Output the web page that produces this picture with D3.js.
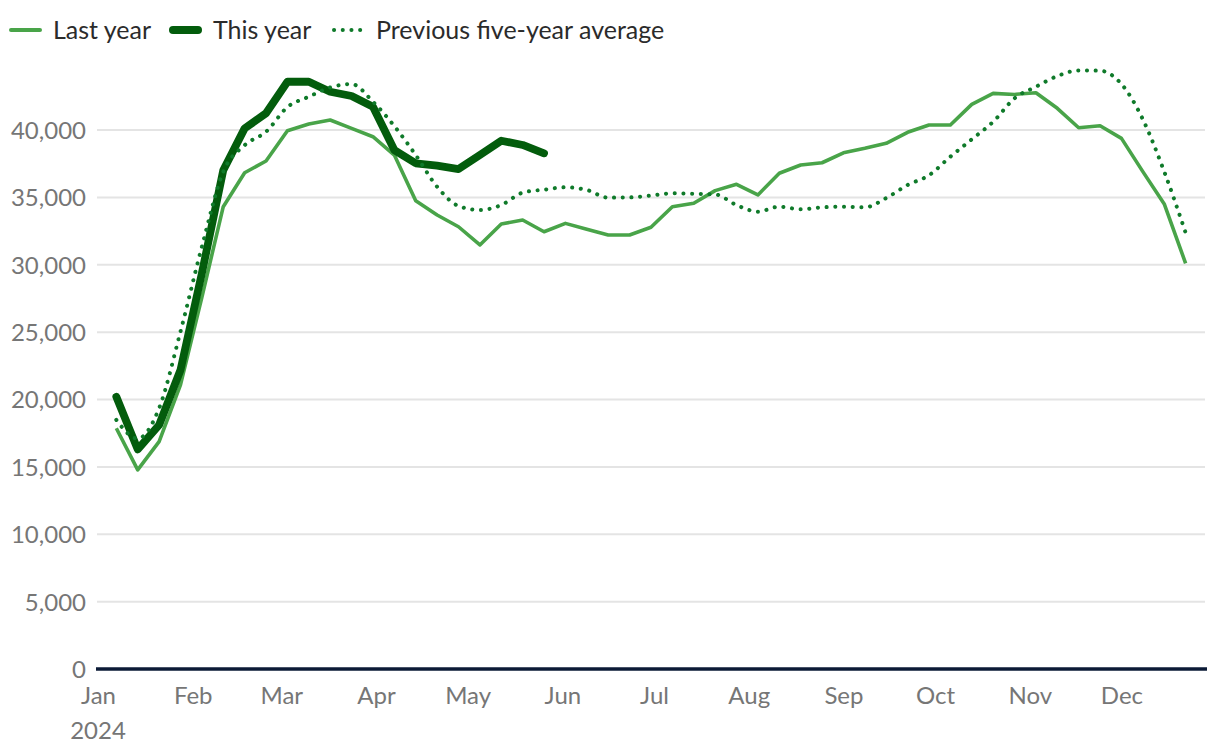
<!DOCTYPE html>
<html>
<head>
<meta charset="utf-8">
<script src="https://cdn.jsdelivr.net/npm/d3@7"></script>
<style>
  html, body { margin: 0; padding: 0; background: #fff; }
  svg { display: block; font-family: "Lato", "Noto Sans", sans-serif; }
</style>
</head>
<body>
<svg id="chart" width="1220" height="756"></svg>
<script>
const weeks = ["2024-01-07","2024-01-14","2024-01-21","2024-01-28","2024-02-04","2024-02-11","2024-02-18","2024-02-25",
  "2024-03-03","2024-03-10","2024-03-17","2024-03-24","2024-03-31","2024-04-07","2024-04-14","2024-04-21","2024-04-28",
  "2024-05-05","2024-05-12","2024-05-19","2024-05-26","2024-06-02","2024-06-09","2024-06-16","2024-06-23","2024-06-30",
  "2024-07-07","2024-07-14","2024-07-21","2024-07-28","2024-08-04","2024-08-11","2024-08-18","2024-08-25",
  "2024-09-01","2024-09-08","2024-09-15","2024-09-22","2024-09-29","2024-10-06","2024-10-13","2024-10-20","2024-10-27",
  "2024-11-03","2024-11-10","2024-11-17","2024-11-24","2024-12-01","2024-12-08","2024-12-15","2024-12-22"];

const lastYear = [17870, 14780, 16880, 21080, 27590, 34310, 36830, 37700, 39950, 40440,
  40740, 40120, 39500, 38140, 34750, 33690, 32820, 31470, 33020, 33320,
  32450, 33070, 32630, 32210, 32210, 32780, 34310, 34560, 35500, 35970,
  35180, 36790, 37400, 37570, 38310, 38640, 39010, 39830, 40370, 40370,
  41900, 42720, 42640, 42760, 41610, 40170, 40320, 39380, 36910, 34510, 30110];

const thisYear = [20200, 16300, 18110, 22190, 29370, 37010, 40120, 41240, 43580, 43580,
  42840, 42520, 41730, 38510, 37530, 37350, 37100, 38140, 39200, 38890, 38270];

const fiveYearAvg = [18490, 17100, 19350, 25040, 31340, 36900, 38870, 39870, 41700, 42470,
  43160, 43410, 42100, 40290, 38140, 35790, 34360, 34060, 34430, 35350,
  35570, 35750, 35550, 34980, 35000, 35130, 35300, 35270, 35220, 34430,
  33940, 34310, 34110, 34260, 34310, 34260, 34950, 35920, 36640, 38020,
  39310, 40610, 42350, 43210, 44000, 44420, 44400, 43410, 40790, 36910, 32380];

const yTicks = [0, 5000, 10000, 15000, 20000, 25000, 30000, 35000, 40000];
const legendLabels = ["Last year", "This year", "Previous five-year average"];
const yearLabel = "2024";

const parse = d3.timeParse("%Y-%m-%d");
const dates = weeks.map(parse);

const colors = { last: "#49a449", cur: "#035c0c", avg: "#0f7a2a" };

const svg = d3.select("#chart");
const plotL = 97, plotR = 1207, plotT = 130, plotB = 669;
const fontFam = "Lato, 'Noto Sans', sans-serif";

const x = d3.scaleTime()
  .domain([parse("2024-01-01"), parse("2024-12-29")])
  .range([plotL + 1, plotR]);
const y = d3.scaleLinear().domain([0, 40000]).range([plotB, plotT]);

// gridlines
svg.append("g").selectAll("line")
  .data(yTicks.filter(d => d > 0))
  .join("line")
  .attr("x1", plotL).attr("x2", plotR - 2)
  .attr("y1", d => y(d)).attr("y2", d => y(d))
  .attr("stroke", "#e4e4e4").attr("stroke-width", 2);

// y axis labels
const yAxis = d3.axisLeft(y).tickValues(yTicks).tickSize(0).tickPadding(0)
  .tickFormat(d3.format(","));
const gy = svg.append("g").attr("transform", `translate(${86},0)`).call(yAxis);
gy.select(".domain").remove();
gy.selectAll("text")
  .attr("fill", "#767676").attr("font-size", 24)
  .attr("font-family", fontFam)
  .attr("dy", "0.35em");

// x axis labels
const xAxis = d3.axisBottom(x).ticks(d3.timeMonth.every(1)).tickSize(0).tickPadding(0)
  .tickFormat(d3.timeFormat("%b"));
const gx = svg.append("g").attr("transform", `translate(0,${plotB + 18})`).call(xAxis);
gx.select(".domain").remove();
gx.selectAll("text")
  .attr("fill", "#767676").attr("font-size", 24)
  .attr("font-family", fontFam)
  .attr("dy", "0.72em");
svg.append("text")
  .attr("x", x(parse("2024-01-01"))).attr("y", plotB + 70)
  .attr("text-anchor", "middle")
  .attr("fill", "#767676").attr("font-size", 24).attr("font-family", fontFam)
  .text(yearLabel);

// baseline
svg.append("line")
  .attr("x1", plotL - 1).attr("x2", plotR)
  .attr("y1", y(0)).attr("y2", y(0))
  .attr("stroke", "#0b1a36").attr("stroke-width", 3.5);

const lineLinear = d3.line().x((d, i) => x(dates[i])).y(d => y(d));
const lineSmooth = d3.line().x((d, i) => x(dates[i])).y(d => y(d)).curve(d3.curveMonotoneX);

svg.append("path").datum(lastYear)
  .attr("d", lineLinear).attr("fill", "none")
  .attr("stroke", colors.last).attr("stroke-width", 3.6)
  .attr("stroke-linejoin", "round");

svg.append("path").datum(thisYear)
  .attr("d", lineLinear).attr("fill", "none")
  .attr("stroke", colors.cur).attr("stroke-width", 7.8)
  .attr("stroke-linejoin", "round").attr("stroke-linecap", "round");

svg.append("path").datum(fiveYearAvg)
  .attr("d", lineSmooth).attr("fill", "none")
  .attr("stroke", colors.avg).attr("stroke-width", 4)
  .attr("stroke-dasharray", "0.1 8.6").attr("stroke-linecap", "round");

// legend
const lg = svg.append("g").attr("font-family", fontFam).attr("font-size", 25);
const ly = 30;
lg.append("line").attr("x1", 11).attr("x2", 40).attr("y1", ly).attr("y2", ly)
  .attr("stroke", colors.last).attr("stroke-width", 4).attr("stroke-linecap", "round");
lg.append("text").attr("x", 53).attr("y", ly).attr("dy", "0.35em").attr("fill", "#2b2b2b").text(legendLabels[0]);
lg.append("line").attr("x1", 173).attr("x2", 198).attr("y1", ly).attr("y2", ly)
  .attr("stroke", colors.cur).attr("stroke-width", 8).attr("stroke-linecap", "round");
lg.append("text").attr("x", 213).attr("y", ly).attr("dy", "0.35em").attr("fill", "#2b2b2b").text(legendLabels[1]);
lg.append("line").attr("x1", 334).attr("x2", 362).attr("y1", ly).attr("y2", ly)
  .attr("stroke", colors.avg).attr("stroke-width", 4).attr("stroke-linecap", "round")
  .attr("stroke-dasharray", "0.1 8.6");
lg.append("text").attr("x", 376).attr("y", ly).attr("dy", "0.35em").attr("fill", "#2b2b2b").text(legendLabels[2]);
</script>
</body>
</html>
